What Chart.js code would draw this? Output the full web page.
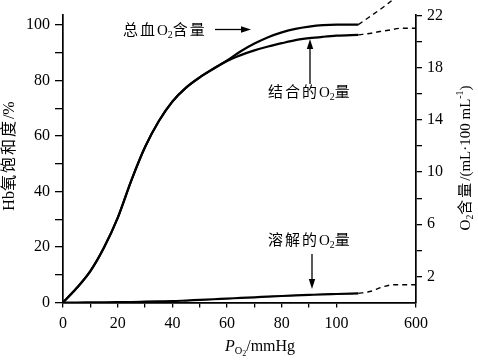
<!DOCTYPE html>
<html>
<head>
<meta charset="utf-8">
<script src="https://cdn.jsdelivr.net/npm/chart.js@4.4.1/dist/chart.umd.min.js"></script>
<style>
html, body { margin: 0; padding: 0; background: #fff; }
</style>
</head>
<body>
<canvas id="chart" width="478" height="361"></canvas>
<script>
// PO2 (mmHg) sampled along the solid curves
const po2 = [0, 5, 10, 15, 20, 25, 30, 35, 40, 45, 50, 55, 60, 65, 70, 75, 80, 85, 90, 95, 100, 108];
// Hb saturation, % (left axis)
const boundSat = [0, 5.2, 11.3, 19.8, 30.5, 44, 56, 65.3, 72.4, 77.4, 81.1, 84.2, 87, 89.1, 90.8, 92.2, 93.4, 94.5, 95.2, 95.7, 96.1, 96.4];
// total blood O2, mL/100 mL (right axis)
const totalO2 = [0, 1.11, 2.41, 4.22, 6.49, 9.37, 11.92, 13.9, 15.41, 16.48, 17.27, 17.93, 18.56, 19.27, 19.86, 20.35, 20.72, 20.99, 21.16, 21.27, 21.31, 21.31];
// dissolved O2, mL/100 mL (right axis)
const dissolvedO2 = [0, 0, 0.01, 0.02, 0.03, 0.04, 0.06, 0.08, 0.1, 0.15, 0.2, 0.25, 0.3, 0.35, 0.4, 0.45, 0.5, 0.54, 0.58, 0.62, 0.65, 0.7];

// dashed continuation over the compressed 110-600 mmHg range
const totalDashP = [108, 336, 449];
const totalDash = [21.31, 22.92, 23.7];
const boundDashP = [108, 180, 262, 360, 449, 600];
const boundDash = [96.4, 97.0, 97.6, 98.2, 98.75, 98.8];
const dissolvedDashP = [108, 166, 290, 385, 600];
const dissolvedDash = [0.7, 0.84, 1.2, 1.36, 1.36];

const xTicks = [0, 10, 20, 30, 40, 50, 60, 70, 80, 90, 100, 600];
const leftTicks = [0, 10, 20, 30, 40, 50, 60, 70, 80, 90, 100];
const rightTicks = [2, 4, 6, 8, 10, 12, 14, 16, 18, 20, 22];
const rightLabels = [2, 6, 10, 14, 18, 22];

const FONT = "'Liberation Serif', 'Times New Roman', 'Noto Sans CJK SC', serif";

// broken x axis: linear up to 110, then 110..600 squeezed into a short stretch
const BREAK = 110, XEND = 600, SQUEEZE = 19.07;
function toAxis(p) { return p <= BREAK ? p : BREAK + (p - BREAK) * SQUEEZE / (XEND - BREAK); }
function fromAxis(a) { return a <= BREAK ? a : BREAK + (a - BREAK) * (XEND - BREAK) / SQUEEZE; }

class BrokenScale extends Chart.LinearScale {
    configure() {
        super.configure();
        this._startValue = toAxis(this.min);
        this._valueRange = toAxis(this.max) - this._startValue;
    }
    getPixelForValue(v) { return super.getPixelForValue(toAxis(v)); }
    getValueForPixel(px) { return fromAxis(super.getValueForPixel(px)); }
}
BrokenScale.id = "broken";
BrokenScale.defaults = Chart.LinearScale.defaults;
Chart.register(BrokenScale);

function pts(xs, ys) {
    return xs.map((x, i) => ({ x: x, y: ys[i] }));
}

function line(data, axis, dashed) {
    return {
        data: data,
        yAxisID: axis,
        borderColor: "#000",
        borderWidth: dashed ? 1.4 : 2.2,
        borderDash: dashed ? [5, 4] : [],
        pointRadius: 0,
        fill: false,
        cubicInterpolationMode: "monotone",
        clip: dashed ? false : undefined
    };
}

// draws text made of pieces: n normal, s subscript, ss sub-subscript, p superscript, i italic
function rich(ctx, parts, x, y, size, gap, draw) {
    let cx = x;
    for (const [t, k] of parts) {
        const small = k === "s" || k === "p";
        const sz = k === "ss" ? size * 0.5 : small ? size * 0.65 : size;
        ctx.font = (k === "i" ? "italic " : "") + sz + "px " + FONT;
        const dy = k === "s" ? size * 0.28 : k === "ss" ? size * 0.42 : k === "p" ? -size * 0.38 : 0;
        for (const ch of t) {
            if (draw) ctx.fillText(ch, cx, y + dy);
            cx += ctx.measureText(ch).width + (/[\u4e00-\u9fff]/.test(ch) ? gap : 0);
        }
    }
    return cx - x;
}

function richCentered(ctx, parts, cx, cy, size, gap, angle) {
    ctx.save();
    ctx.translate(cx, cy);
    ctx.rotate(angle || 0);
    ctx.textBaseline = "middle";
    ctx.textAlign = "left";
    const w = rich(ctx, parts, 0, 0, size, gap, false);
    rich(ctx, parts, -w / 2, 0, size, gap, true);
    ctx.restore();
}

function arrow(ctx, x1, y1, x2, y2) {
    const a = Math.atan2(y2 - y1, x2 - x1);
    const len = 10, half = 3.2;
    ctx.beginPath();
    ctx.moveTo(x1, y1);
    ctx.lineTo(x2 - Math.cos(a) * len * 0.8, y2 - Math.sin(a) * len * 0.8);
    ctx.stroke();
    ctx.beginPath();
    ctx.moveTo(x2, y2);
    ctx.lineTo(x2 - Math.cos(a) * len - Math.sin(a) * half, y2 - Math.sin(a) * len + Math.cos(a) * half);
    ctx.lineTo(x2 - Math.cos(a) * len + Math.sin(a) * half, y2 - Math.sin(a) * len - Math.cos(a) * half);
    ctx.closePath();
    ctx.fill();
}

const notes = {
    id: "notes",
    afterDraw(chart) {
        const ctx = chart.ctx;
        ctx.save();
        ctx.fillStyle = "#000";
        ctx.strokeStyle = "#000";
        ctx.lineWidth = 1.3;

        ctx.textBaseline = "middle";
        rich(ctx, [["总血O", "n"], ["2", "s"], ["含量", "n"]], 123, 31, 15, 2, true);
        arrow(ctx, 215, 29.5, 251, 29.5);

        rich(ctx, [["结合的O", "n"], ["2", "s"], ["量", "n"]], 268, 93, 15, 2, true);
        arrow(ctx, 310, 84, 310, 39);

        rich(ctx, [["溶解的O", "n"], ["2", "s"], ["量", "n"]], 268, 241, 15, 2, true);
        arrow(ctx, 312, 254, 312, 289);

        richCentered(ctx, [["Hb氧饱和度/%", "n"]], 10, 156, 16, 2, -Math.PI / 2);
        richCentered(ctx, [["O", "n"], ["2", "s"], ["含量/(mL·100 mL", "n"], ["-1", "p"], [")", "n"]], 466, 158, 15, 2, -Math.PI / 2);
        richCentered(ctx, [["P", "i"], ["O", "s"], ["2", "ss"], ["/mmHg", "n"]], 260, 347, 16, 0, 0);
        ctx.restore();
    }
};

const tickFont = { family: FONT, size: 16 };
const axisGrid = len => ({
    display: true,
    drawOnChartArea: false,
    drawTicks: true,
    tickLength: len,
    color: "#000",
    lineWidth: 1.3
});
const axisBorder = { display: true, color: "#000", width: 1.7 };

new Chart(document.getElementById("chart"), {
    type: "line",
    data: {
        datasets: [
            line(pts(po2, boundSat), "y", false),
            line(pts(po2, totalO2), "y1", false),
            line(pts(po2, dissolvedO2), "y1", false),
            line(pts(totalDashP, totalDash), "y1", true),
            line(pts(boundDashP, boundDash), "y", true),
            line(pts(dissolvedDashP, dissolvedDash), "y1", true)
        ]
    },
    options: {
        responsive: false,
        animation: false,
        devicePixelRatio: 1,
        layout: { padding: { top: 11, left: 0, right: 0, bottom: 0 } },
        plugins: { legend: { display: false }, tooltip: { enabled: false } },
        scales: {
            x: {
                type: "broken",
                min: 0,
                max: XEND,
                afterBuildTicks: s => { s.ticks = xTicks.map(v => ({ value: v })); },
                afterFit: s => { s.height = 58.5; },
                grid: axisGrid(5),
                border: axisBorder,
                ticks: {
                    autoSkip: false,
                    maxRotation: 0,
                    padding: 7,
                    color: "#000",
                    font: tickFont,
                    callback: v => (v % 20 === 0 || v === XEND) ? String(v) : ""
                }
            },
            y: {
                position: "left",
                min: 0,
                max: 103.7,
                afterBuildTicks: s => { s.ticks = leftTicks.map(v => ({ value: v })); },
                afterFit: s => { s.width = 63; },
                grid: axisGrid(8),
                border: axisBorder,
                ticks: {
                    autoSkip: false,
                    padding: 5,
                    color: "#000",
                    font: tickFont,
                    callback: v => v % 20 === 0 ? String(v) : ""
                }
            },
            y1: {
                position: "right",
                min: 0,
                max: 22.08,
                afterBuildTicks: s => { s.ticks = rightTicks.map(v => ({ value: v })); },
                afterFit: s => { s.width = 62; },
                grid: axisGrid(6),
                border: axisBorder,
                ticks: {
                    autoSkip: false,
                    padding: 5,
                    color: "#000",
                    font: tickFont,
                    callback: v => rightLabels.includes(v) ? String(v) : ""
                }
            }
        }
    },
    plugins: [notes]
});
</script>
</body>
</html>
